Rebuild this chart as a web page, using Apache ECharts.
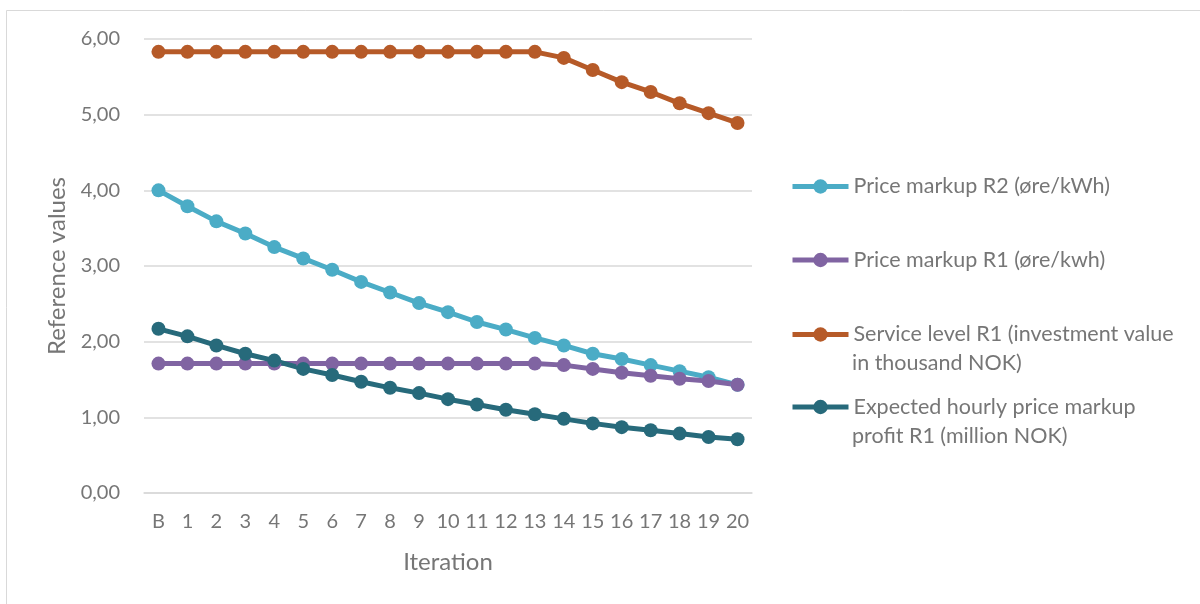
<!DOCTYPE html>
<html>
<head>
<meta charset="utf-8">
<script src="https://cdn.jsdelivr.net/npm/echarts@6/dist/echarts.min.js"></script>
<style>
  html, body { margin: 0; padding: 0; background: #fff; }
  #chart { width: 1200px; height: 604px; }
</style>
</head>
<body>
<div id="chart"></div>
<script>
// Iteration categories (B = baseline)
const iterations = ['B', '1', '2', '3', '4', '5', '6', '7', '8', '9', '10',
  '11', '12', '13', '14', '15', '16', '17', '18', '19', '20'];

const priceMarkupR2 = [4.00, 3.79, 3.59, 3.43, 3.25, 3.10, 2.95, 2.79, 2.65, 2.51, 2.39,
  2.26, 2.16, 2.05, 1.95, 1.84, 1.77, 1.69, 1.61, 1.53, 1.43];
const priceMarkupR1 = [1.71, 1.71, 1.71, 1.71, 1.71, 1.71, 1.71, 1.71, 1.71, 1.71, 1.71,
  1.71, 1.71, 1.71, 1.69, 1.64, 1.59, 1.55, 1.51, 1.48, 1.43];
const serviceLevelR1 = [5.83, 5.83, 5.83, 5.83, 5.83, 5.83, 5.83, 5.83, 5.83, 5.83, 5.83,
  5.83, 5.83, 5.83, 5.75, 5.59, 5.43, 5.30, 5.15, 5.02, 4.89];
const expectedProfitR1 = [2.17, 2.07, 1.95, 1.84, 1.75, 1.64, 1.56, 1.47, 1.39, 1.32, 1.24,
  1.17, 1.10, 1.04, 0.98, 0.92, 0.87, 0.83, 0.785, 0.74, 0.71];

// Legend labels: first line goes next to the legend icon, the optional
// second line is written underneath it.
const seriesNames = [
  'Price markup R2 (øre/kWh)',
  'Price markup R1 (øre/kwh)',
  'Service level R1 (investment value',
  'Expected hourly price markup'
];
const seriesSecondLines = ['', '', 'in thousand NOK)', 'profit R1 (million NOK)'];
const seriesColors = ['#4BACC6', '#8064A2', '#B65A28', '#276A7B'];
const seriesData = [priceMarkupR2, priceMarkupR1, serviceLevelR1, expectedProfitR1];

const FONT = 'Lato, "Open Sans", sans-serif';
const TEXT_COLOR = '#767676';
const LEGEND_FONT_SIZE = 21.5;

const chart = echarts.init(document.getElementById('chart'), null, { renderer: 'canvas' });

const legendTops = [175.5, 249, 323.5, 396];
const legendItemHeight = 18;
const legends = seriesNames.map((name, i) => ({
  data: [name],
  left: 790,
  top: legendTops[i],
  orient: 'vertical',
  itemWidth: 56,
  itemHeight: legendItemHeight,
  padding: 0,
  lineStyle: { width: 5 },
  textStyle: { fontFamily: FONT, fontSize: LEGEND_FONT_SIZE, color: TEXT_COLOR }
}));

const secondLineTexts = [];
seriesSecondLines.forEach((txt, i) => {
  if (!txt) return;
  secondLineTexts.push({
    type: 'text',
    left: 852,
    top: legendTops[i] + 29,
    silent: true,
    style: {
      text: txt,
      font: LEGEND_FONT_SIZE + 'px ' + FONT,
      fill: TEXT_COLOR
    }
  });
});

const option = {
  backgroundColor: '#fff',
  animation: false,
  graphic: [{
    type: 'rect',
    shape: { x: 6.5, y: 10.5, width: 1200, height: 600 },
    style: { fill: 'none', stroke: '#D9D9D9', lineWidth: 1 },
    silent: true
  }].concat(secondLineTexts),
  grid: { left: 144, right: 448, top: 39, bottom: 111 },
  legend: legends,
  xAxis: {
    type: 'category',
    data: iterations,
    boundaryGap: true,
    name: 'Iteration',
    nameLocation: 'middle',
    nameGap: 57,
    nameTextStyle: { fontFamily: FONT, fontSize: 24, color: TEXT_COLOR },
    axisLine: { show: true, lineStyle: { color: '#D9D9D9', width: 1.5 } },
    axisTick: { show: false },
    axisLabel: { fontFamily: FONT, fontSize: 20, color: TEXT_COLOR, margin: 19, interval: 0 }
  },
  yAxis: {
    type: 'value',
    min: 0,
    max: 6,
    interval: 1,
    name: 'Reference values',
    nameLocation: 'middle',
    nameGap: 75,
    nameTextStyle: { fontFamily: FONT, fontSize: 24, color: TEXT_COLOR },
    axisLine: { show: false },
    axisTick: { show: false },
    axisLabel: {
      fontFamily: FONT, fontSize: 20, color: TEXT_COLOR, margin: 24,
      formatter: v => v.toFixed(2).replace('.', ',')
    },
    splitLine: { lineStyle: { color: '#D9D9D9', width: 1.5 } }
  },
  series: seriesNames.map((name, i) => ({
    name,
    type: 'line',
    data: seriesData[i],
    symbol: 'circle',
    symbolSize: 14,
    showSymbol: true,
    color: seriesColors[i],
    lineStyle: { width: 5, color: seriesColors[i] },
    itemStyle: { color: seriesColors[i] },
    emphasis: { disabled: true }
  }))
};

chart.setOption(option);
</script>
</body>
</html>
